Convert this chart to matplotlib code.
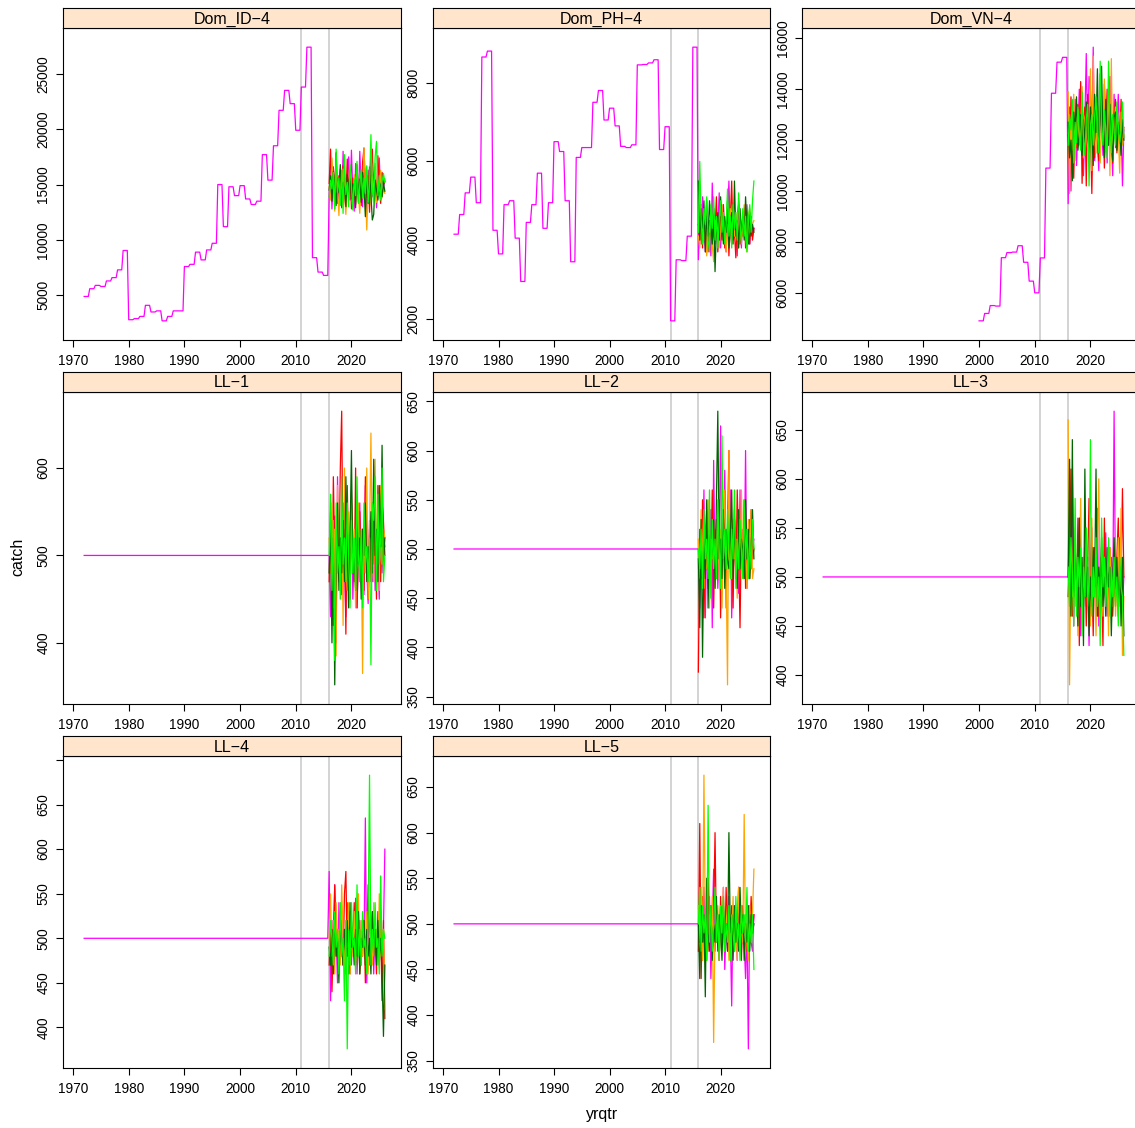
import numpy as np
import matplotlib
matplotlib.use('Agg')
import matplotlib.pyplot as plt

plt.rcParams['font.family'] = ['Liberation Sans', 'DejaVu Sans']

# panel names (lattice strips)
panels = ['Dom_ID\u22124', 'Dom_PH\u22124', 'Dom_VN\u22124',
          'LL\u22121', 'LL\u22122', 'LL\u22123', 'LL\u22124', 'LL\u22125']
cols = ['magenta', 'red', 'orange', '#006400', '#00FF00']

# historical annual catch (first year, values)
id_start = 1972
id_hist = [4900, 5600, 5900, 5800, 6300, 6600, 7300, 9050, 2800, 2900, 3100, 4100, 3500, 3600, 2700,
           3100, 3600, 3600, 7600, 7800, 8900, 8200, 9100, 9700, 15000, 11200, 14800, 14000, 14900,
           13700, 13200, 13500, 17700, 15400, 18500, 21700, 23500, 22300, 19900, 23800, 27400, 8400,
           7100, 6800]
ph_start = 1972
ph_hist = [4150, 4650, 5200, 5600, 4950, 8650, 8800, 4250, 3650, 4900, 5000, 4050, 2950, 4450, 4900,
           5700, 4300, 4950, 6500, 6250, 5000, 3450, 6100, 6350, 6350, 7500, 7800, 7050, 7350, 6900,
           6380, 6350, 6420, 8450, 8460, 8500, 8580, 6300, 6880, 1950, 3500, 3480, 4100, 8900]
vn_start = 2000
vn_hist = [4900, 5190, 5500, 5480, 7380, 7580, 7600, 7850, 7200, 6460, 6000, 7370, 10900, 13840,
           15060, 15250]
ll_start = 1972
ll_hist = [500] * 44

# quarterly projections from 2016, one list per colour (magenta, red, orange, darkgreen, green)
proj_start = 2016
id_proj = [
    [14200, 16800, 12800, 15500, 14000, 17800, 13500, 15200, 16400, 13200, 18000, 14100, 12900, 15800,
     17500, 13600, 18100, 14300, 12600, 16900, 15100, 13400, 18000, 14700, 13000, 17200, 15600, 12800,
     16300, 14500, 17900, 13900, 15300, 16600, 12900, 14800, 17400, 13700, 16000, 14600, 15500],
    [15100, 18200, 13800, 16600, 14200, 17900, 13300, 15800, 14600, 12900, 16700, 15000, 13600, 17300,
     14400, 16100, 12800, 15600, 14900, 13200, 16800, 14100, 15400, 13100, 17000, 18300, 14700, 13900,
     15800, 12500, 16200, 18200, 14300, 15900, 13500, 17600, 14800, 13300, 16100, 15000, 15300],
    [14800, 13600, 17400, 14900, 12600, 16000, 14400, 12200, 15700, 13900, 16400, 14200, 12300, 15100,
     13700, 16300, 14600, 12800, 15900, 13500, 16200, 14000, 12400, 15300, 13800, 18300, 15000, 10900,
     14600, 16400, 13200, 15700, 14100, 16900, 13400, 15200, 14400, 16300, 13800, 14700, 14200],
    [14500, 15800, 13500, 16200, 14900, 13100, 15600, 14300, 16800, 13800, 15200, 14600, 13000, 15900,
     14200, 16300, 13700, 15100, 14800, 12900, 16400, 14100, 15500, 13400, 16100, 14700, 12100, 15800,
     13300, 16600, 14000, 11800, 12300, 15400, 14500, 13600, 15200, 14900, 13900, 15100, 14400],
    [13900, 15400, 14600, 16100, 12800, 18200, 14300, 15600, 13100, 16300, 12400, 17700, 14100, 15200,
     13000, 16800, 14900, 12700, 15500, 14000, 17100, 13300, 15000, 16400, 13800, 15600, 14200, 16700,
     13400, 15100, 19500, 14600, 13200, 17500, 18900, 14000, 15800, 13600, 15300, 16000, 15200]]
ph_proj = [
    [3500, 4600, 3900, 5100, 4200, 3700, 4800, 4000, 4500, 3600, 5450, 4100, 3900, 4700, 4300, 5200,
     3800, 4400, 4900, 4000, 3700, 4600, 5500, 4200, 3900, 4800, 4100, 4500, 3600, 5000, 4300, 3800,
     4700, 4400, 4000, 4900, 4200, 3900, 4600, 4100, 4300],
    [4400, 4000, 4900, 3800, 4600, 4300, 5000, 3700, 4500, 4100, 3900, 4800, 4200, 5100, 3700, 4400,
     4600, 4000, 4900, 3800, 4300, 4700, 3600, 4500, 5500, 4000, 4200, 3550, 4600, 4900, 3900, 4400,
     4100, 4700, 3800, 4500, 4200, 3900, 4600, 4000, 4300],
    [4100, 3800, 4900, 4300, 4000, 4700, 3600, 4400, 4200, 4800, 3900, 3450, 4500, 4100, 4600, 3800,
     4300, 4900, 4000, 4500, 3700, 4400, 4200, 4800, 3900, 4600, 4100, 4300, 4700, 3800, 4500, 4000,
     4400, 4900, 4200, 3700, 4600, 4800, 4300, 4400, 4500],
    [5500, 4000, 4800, 4300, 5000, 3700, 4600, 4100, 5000, 4400, 3900, 4800, 3200, 4300, 4700, 4000,
     5100, 4500, 3900, 4600, 4200, 5000, 3800, 4400, 4700, 3900, 5500, 4100, 4500, 3800, 4800, 4200,
     4600, 4000, 5100, 4300, 3900, 4700, 4100, 4400, 4200],
    [4200, 6000, 4500, 3900, 4800, 4400, 5100, 4000, 3700, 4900, 4300, 5100, 4000, 4600, 3800, 4500,
     5000, 4200, 4700, 3900, 4400, 5300, 4100, 4600, 3800, 4900, 4300, 4700, 4000, 5200, 4400, 3900,
     4800, 4100, 4600, 3700, 4500, 4900, 4200, 5000, 5500]]
vn_proj = [
    [9500, 13300, 10000, 12700, 11500, 13600, 11000, 12400, 14000, 11800, 13400, 10600, 12800, 15400,
     11900, 14500, 13900, 12300, 15650, 11200, 13100, 12000, 10800, 13700, 12500, 11400, 14200, 12900,
     11100, 13300, 14500, 12200, 10600, 13800, 11700, 12600, 13800, 11900, 12800, 10200, 12400],
    [12200, 11000, 13700, 12500, 10500, 12900, 11700, 13400, 12100, 14300, 10300, 12700, 13300, 10200,
     13800, 11500, 12400, 9900, 12900, 11300, 13500, 12000, 11200, 14600, 12300, 13200, 10900, 12600,
     14000, 11800, 13500, 12400, 11100, 12900, 13600, 11500, 12700, 11900, 13600, 12100, 12500],
    [13900, 9900, 12800, 11600, 13800, 11200, 12600, 13200, 11800, 12400, 14100, 11300, 12900, 13100,
     11600, 12200, 14800, 10800, 15300, 12100, 11500, 13400, 12700, 11100, 13000, 12300, 14400, 11600,
     12800, 13900, 10600, 15200, 11200, 12600, 13300, 11900, 12400, 10700, 13100, 11800, 12200],
    [12700, 11300, 12000, 10400, 13100, 12400, 13700, 11600, 12200, 13000, 11400, 12800, 11900, 13500,
     12100, 11700, 13300, 12500, 11000, 13800, 12300, 14800, 11500, 12900, 14900, 12000, 11300, 13600,
     12200, 11800, 13400, 12100, 11200, 12900, 13100, 11600, 12600, 12300, 11400, 12800, 12000],
    [11800, 13000, 12400, 13600, 11100, 12700, 11900, 13300, 12300, 11600, 13900, 12100, 11400, 12800,
     13400, 10200, 12500, 13000, 11800, 12900, 13700, 12200, 11500, 15100, 12600, 11800, 13200, 12400,
     11300, 15100, 12700, 11500, 13000, 12300, 11800, 13500, 12600, 11900, 12400, 13500, 12100]]
ll1_proj = [
    [500, 430, 480, 420, 545, 400, 590, 470, 520, 455, 560, 490, 430, 550, 500, 470, 575, 450, 505, 530,
     440, 495, 560, 470, 515, 455, 580, 485, 445, 530, 500, 470, 545, 460, 520, 500, 450, 565, 480, 520, 510],
    [470, 550, 420, 590, 500, 460, 540, 480, 600, 665, 470, 530, 410, 580, 490, 450, 560, 520, 470, 600,
     440, 510, 550, 480, 530, 460, 590, 500, 450, 540, 470, 560, 490, 520, 450, 580, 500, 470, 560, 540, 500],
    [520, 480, 560, 440, 530, 385, 580, 500, 470, 550, 420, 600, 490, 460, 550, 510, 570, 480, 530, 440,
     500, 560, 470, 520, 365, 540, 480, 600, 450, 520, 640, 490, 470, 610, 500, 540, 460, 580, 490, 530, 520],
    [480, 540, 400, 520, 352, 500, 560, 460, 520, 480, 540, 470, 590, 510, 440, 520, 620, 480, 500, 460,
     540, 490, 520, 450, 530, 500, 560, 470, 510, 490, 550, 480, 610, 500, 530, 470, 580, 510, 626, 490, 520],
    [500, 570, 460, 540, 380, 560, 480, 510, 450, 590, 490, 520, 470, 560, 500, 440, 540, 480, 520, 460,
     590, 500, 470, 530, 440, 560, 490, 510, 470, 520, 375, 560, 540, 590, 460, 570, 490, 520, 600, 470, 500]]
ll2_proj = [
    [500, 440, 520, 470, 560, 430, 510, 480, 450, 540, 420, 590, 480, 530, 460, 500, 625, 470, 510, 580,
     440, 520, 490, 560, 430, 500, 540, 470, 510, 455, 560, 490, 520, 470, 600, 460, 510, 530, 480, 500, 510],
    [375, 520, 470, 550, 430, 500, 540, 460, 510, 480, 560, 440, 520, 470, 500, 550, 430, 510, 490, 560,
     470, 520, 600, 480, 510, 440, 530, 470, 560, 500, 420, 520, 480, 550, 460, 510, 500, 470, 540, 490, 500],
    [510, 470, 540, 500, 460, 520, 480, 550, 440, 510, 490, 530, 460, 500, 540, 470, 520, 440, 510, 560,
     480, 362, 600, 500, 470, 530, 490, 510, 450, 540, 480, 560, 470, 520, 500, 460, 530, 490, 540, 470, 480],
    [490, 420, 530, 390, 510, 470, 550, 440, 520, 480, 500, 530, 460, 550, 640, 490, 510, 470, 540, 460,
     520, 490, 480, 510, 560, 470, 530, 490, 460, 540, 480, 510, 500, 470, 550, 490, 520, 470, 500, 540, 490],
    [500, 480, 520, 460, 540, 490, 510, 470, 560, 450, 530, 480, 510, 470, 550, 500, 460, 615, 490, 520,
     480, 540, 500, 470, 520, 490, 560, 460, 510, 480, 530, 500, 470, 550, 490, 520, 470, 510, 480, 530, 500]]
ll3_proj = [
    [500, 560, 480, 610, 450, 540, 470, 520, 560, 440, 510, 490, 540, 470, 520, 430, 500, 550, 460, 520,
     480, 570, 450, 500, 530, 470, 490, 545, 460, 500, 480, 520, 470, 669, 480, 510, 460, 540, 490, 470, 500],
    [480, 520, 610, 460, 540, 500, 470, 560, 430, 520, 490, 470, 530, 450, 510, 580, 480, 500, 440, 530,
     470, 500, 460, 520, 490, 430, 560, 480, 510, 470, 530, 490, 460, 500, 470, 520, 560, 480, 500, 590, 500],
    [660, 390, 520, 480, 550, 470, 510, 440, 500, 580, 460, 520, 480, 540, 470, 500, 450, 560, 480, 510,
     440, 530, 600, 470, 500, 460, 520, 480, 510, 440, 530, 490, 470, 520, 460, 500, 540, 470, 570, 420, 480],
    [500, 620, 460, 640, 480, 530, 500, 450, 560, 470, 520, 430, 610, 480, 510, 440, 500, 470, 530, 490,
     610, 460, 510, 480, 540, 470, 500, 460, 530, 490, 510, 440, 500, 540, 480, 520, 470, 510, 450, 520, 440],
    [510, 470, 540, 500, 450, 580, 460, 520, 490, 530, 440, 510, 480, 550, 470, 500, 640, 460, 510, 480,
     540, 470, 500, 430, 560, 490, 520, 470, 500, 540, 460, 510, 480, 520, 470, 500, 450, 520, 490, 480, 420]]
ll4_proj = [
    [575, 430, 520, 470, 560, 500, 450, 540, 480, 520, 470, 510, 460, 540, 490, 530, 470, 510, 480, 545,
     460, 500, 520, 470, 510, 490, 635, 450, 520, 470, 500, 530, 460, 510, 480, 500, 470, 530, 480, 510, 600],
    [470, 520, 440, 500, 560, 480, 510, 460, 530, 490, 470, 550, 575, 480, 510, 460, 520, 490, 540, 470,
     500, 530, 460, 510, 480, 520, 450, 500, 560, 490, 470, 520, 480, 500, 460, 530, 490, 510, 430, 520, 410],
    [500, 550, 480, 520, 460, 540, 490, 510, 470, 560, 500, 470, 520, 490, 540, 460, 510, 480, 530, 475,
     500, 550, 470, 520, 480, 510, 490, 530, 460, 500, 520, 470, 540, 490, 510, 470, 550, 480, 500, 510, 420],
    [490, 470, 510, 460, 530, 480, 500, 450, 520, 490, 470, 510, 480, 520, 460, 540, 490, 500, 470, 510,
     480, 530, 460, 500, 490, 520, 470, 510, 480, 500, 460, 530, 490, 510, 470, 520, 480, 500, 460, 390, 470],
    [480, 520, 500, 470, 530, 490, 510, 460, 540, 480, 500, 430, 520, 376, 510, 470, 540, 490, 500, 460,
     560, 480, 510, 470, 530, 490, 500, 460, 520, 683, 470, 510, 480, 540, 490, 500, 460, 570, 480, 510, 500]]
ll5_proj = [
    [500, 480, 520, 460, 540, 490, 510, 470, 530, 440, 500, 560, 470, 510, 490, 460, 520, 480, 540, 450,
     500, 470, 530, 490, 410, 520, 480, 500, 460, 540, 490, 470, 510, 480, 440, 500, 363, 520, 480, 470, 510],
    [470, 610, 440, 530, 480, 500, 460, 550, 490, 520, 470, 510, 600, 480, 500, 460, 530, 490, 510, 470,
     540, 480, 500, 460, 520, 490, 470, 510, 480, 540, 500, 460, 520, 490, 510, 470, 500, 480, 530, 490, 510],
    [520, 480, 540, 460, 663, 500, 520, 470, 510, 490, 530, 370, 500, 480, 520, 460, 510, 490, 540, 470,
     500, 520, 460, 510, 480, 530, 470, 500, 460, 540, 490, 510, 480, 620, 470, 500, 460, 520, 480, 510, 560],
    [500, 440, 520, 480, 510, 420, 550, 490, 470, 520, 460, 500, 480, 530, 470, 510, 490, 460, 520, 480,
     500, 470, 600, 490, 510, 460, 520, 480, 500, 470, 540, 490, 510, 460, 500, 480, 520, 470, 510, 490, 500],
    [500, 540, 470, 520, 490, 510, 460, 630, 480, 520, 470, 500, 540, 480, 510, 460, 520, 490, 530, 470,
     500, 480, 520, 460, 510, 490, 470, 530, 480, 500, 460, 520, 490, 510, 480, 540, 470, 500, 480, 510, 450]]

hists = [(id_start, id_hist), (ph_start, ph_hist), (vn_start, vn_hist)] + [(ll_start, ll_hist)] * 5
projs = [id_proj, ph_proj, vn_proj, ll1_proj, ll2_proj, ll3_proj, ll4_proj, ll5_proj]
ysteps = [5000, 2000, 2000, 100, 50, 50, 50, 50]
vlines = [2011, 2016]

W, H = 1135, 1128
fig = plt.figure(figsize=(W / 100, H / 100), dpi=100)

colx = [(63, 401), (433, 770), (802, 1140)]
rowy = [(8, 28, 340), (372, 392, 704), (736, 756, 1068)]

for i, name in enumerate(panels):
    r, c = divmod(i, 3)
    x0, x1 = colx[c]
    s0, p0, p1 = rowy[r]
    ax = fig.add_axes([x0 / W, 1 - p1 / H, (x1 - x0) / W, (p1 - p0) / H])
    st = fig.add_axes([x0 / W, 1 - p0 / H, (x1 - x0) / W, (p0 - s0) / H])
    st.set_facecolor('#FFE5CC')
    st.set_xticks([]); st.set_yticks([])
    st.text(0.5, 0.45, name, ha='center', va='center', fontsize=11.5, transform=st.transAxes)
    for sp in st.spines.values():
        sp.set_linewidth(0.8)

    start, hv = hists[i]
    hx = start + np.arange(4 * len(hv)) / 4
    hy = np.repeat(hv, 4)
    pr = projs[i]
    for k, vals in enumerate(pr):
        px = proj_start + np.arange(len(vals)) / 4
        if k == 0:
            ax.plot(np.append(hx, px), np.append(hy, vals), color=cols[k], lw=0.9)
        else:
            ax.plot(px, vals, color=cols[k], lw=0.9)
    for v in vlines:
        ax.axvline(v, color='#C8C8C8', lw=1.1, zorder=0)

    ax.margins(y=0.07)
    lo, hi = ax.get_ylim()
    ax.set_ylim(lo, hi)
    ax.set_xlim(1968.2, 2028.9)
    step = ysteps[i]
    yt = np.arange(np.ceil(lo / step) * step, hi, step)
    # lattice drops labels that would run past the panel edge
    ylab = ['' if (hi - t) < 0.02 * (hi - lo) else '%d' % t for t in yt]
    ax.set_yticks(yt)
    ax.set_yticklabels(ylab, rotation=90, va='center')
    ax.set_xticks(np.arange(1970, 2021, 10))
    ax.tick_params(direction='out', length=5, width=0.8, labelsize=9.8, pad=4)
    ax.tick_params(axis='x', pad=5)
    for sp in ax.spines.values():
        sp.set_linewidth(0.8)

fig.text(18 / W, 1 - 557 / H, 'catch', rotation=90, ha='center', va='center', fontsize=11.5)
fig.text(602 / W, 1 - 1115 / H, 'yrqtr', ha='center', va='center', fontsize=11.5)

fig.savefig('out.png', dpi=100)
